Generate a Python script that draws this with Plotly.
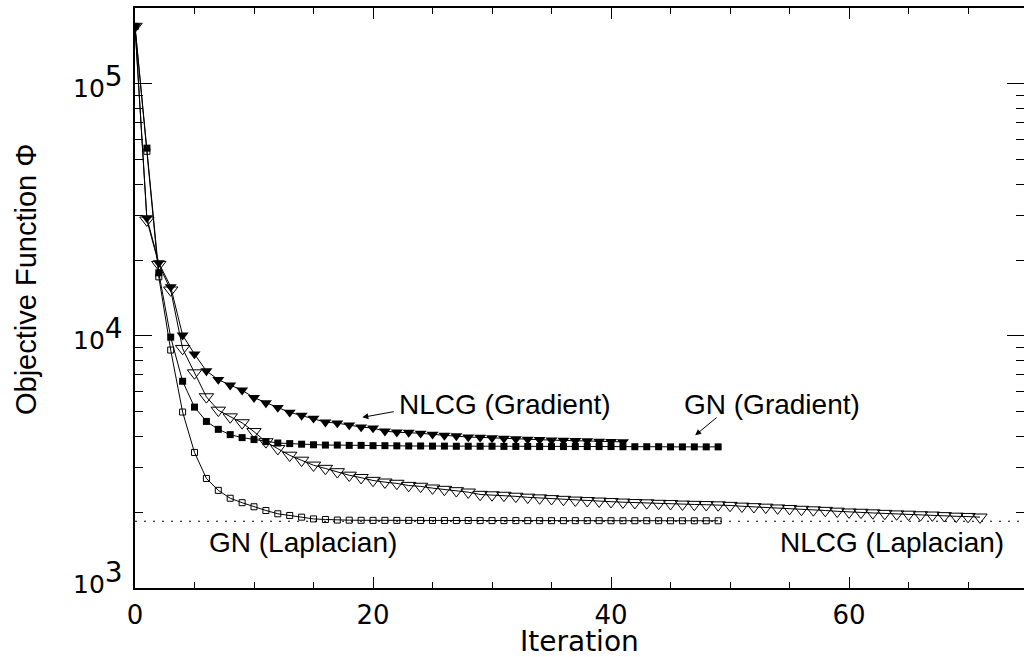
import math
import plotly.graph_objects as go

# Objective function value per iteration for the four inversion schemes
gn_gradient = [169000, 55600, 17800, 9890, 6610, 5220, 4580, 4260, 4060, 3950,
               3880, 3810, 3760, 3740, 3720, 3700, 3690, 3690, 3680, 3680,
               3670, 3670, 3665, 3660, 3660, 3655, 3655, 3650, 3650, 3650,
               3650, 3645, 3645, 3645, 3640, 3640, 3640, 3640, 3640, 3640,
               3640, 3635, 3635, 3635, 3635, 3630, 3630, 3630, 3630, 3630]

nlcg_gradient = [169000, 29400, 19500, 15670, 10070, 8470, 7260, 6710, 6380, 6090,
                 5690, 5420, 5200, 4980, 4840, 4710, 4550, 4510, 4430, 4350,
                 4310, 4190, 4150, 4140, 4110, 4070, 4030, 4010, 3970, 3960,
                 3940, 3920, 3905, 3890, 3875, 3860, 3850, 3840, 3830, 3820,
                 3810, 3800]

nlcg_laplacian = [169000, 28800, 19200, 15200, 8910, 7130, 5730, 5070, 4770, 4520,
                  4170, 3800, 3570, 3360, 3210, 3070, 2980, 2890, 2800, 2740,
                  2670, 2630, 2600, 2550, 2530, 2490, 2460, 2430, 2400, 2350,
                  2340, 2330, 2310, 2290, 2275, 2260, 2245, 2230, 2220, 2210,
                  2200, 2190, 2180, 2175, 2165, 2160, 2150, 2145, 2140, 2135,
                  2125, 2110, 2100, 2090, 2075, 2065, 2050, 2040, 2030, 2015,
                  2000, 1995, 1985, 1975, 1965, 1960, 1950, 1945, 1935, 1925,
                  1920, 1910]

gn_laplacian = [169000, 54000, 17150, 8790, 4990, 3450, 2720, 2440, 2270, 2180,
                2100, 2030, 1970, 1940, 1910, 1880, 1870, 1860, 1858, 1856,
                1855, 1855, 1854, 1854, 1853, 1853, 1852, 1852, 1852, 1851,
                1851, 1851, 1851, 1850, 1850, 1850, 1850, 1850, 1850, 1850,
                1849, 1849, 1849, 1849, 1849, 1848, 1848, 1848, 1848, 1848]

target_level = 1840          # dotted reference level
x_extent = [0, 74.7]
y_top = 2.0e5
major_exponents = [3, 4, 5]
x_major = [0, 20, 40, 60]

FONT = "Liberation Sans, Arial, Helvetica, sans-serif"
WIDE = "DejaVu Sans, Verdana, sans-serif"

fig = go.Figure()

# dotted reference line across the full iteration range
fig.add_trace(go.Scatter(x=x_extent, y=[target_level, target_level], mode="lines",
                         line=dict(color="black", width=1, dash="2px,7px"),
                         hoverinfo="skip"))

thin = dict(color="black", width=1)

fig.add_trace(go.Scatter(x=list(range(len(gn_laplacian))), y=gn_laplacian,
                         mode="lines+markers", line=thin, name="GN (Laplacian)",
                         marker=dict(symbol="square-open", size=6, color="black",
                                     line=dict(color="black", width=1))))
fig.add_trace(go.Scatter(x=list(range(len(nlcg_laplacian))), y=nlcg_laplacian,
                         mode="lines+markers", line=thin, name="NLCG (Laplacian)",
                         marker=dict(symbol="triangle-down-open", size=12.5, color="black",
                                     line=dict(color="black", width=1))))
fig.add_trace(go.Scatter(x=list(range(len(gn_gradient))), y=gn_gradient,
                         mode="lines+markers", line=thin, name="GN (Gradient)",
                         marker=dict(symbol="square", size=7, color="black",
                                     line=dict(width=0))))
fig.add_trace(go.Scatter(x=list(range(len(nlcg_gradient))), y=nlcg_gradient,
                         mode="lines+markers", line=thin, name="NLCG (Gradient)",
                         marker=dict(symbol="triangle-down", size=10.5, color="black",
                                     line=dict(width=0))))

# curve labels
labels = [
    ("NLCG (Gradient)", 31.1, 5350),
    ("GN (Gradient)", 53.5, 5350),
    ("GN (Laplacian)", 14.1, 1517),
    ("NLCG (Laplacian)", 63.6, 1517),
]
for text, xv, yv in labels:
    fig.add_annotation(x=xv, y=math.log10(yv), xref="x", yref="y", text=text,
                       showarrow=False, xanchor="center", yanchor="middle",
                       font=dict(family=FONT, size=28, color="black"))

# pointer arrows (head position, tail offset in pixels)
arrows = [
    (19.1, 4753, 33, -6),
    (47.07, 4035, 23, -19),
]
for xv, yv, ax, ay in arrows:
    fig.add_annotation(x=xv, y=math.log10(yv), xref="x", yref="y", text="",
                       showarrow=True, ax=ax, ay=ay, arrowhead=2, arrowsize=1.2,
                       arrowwidth=1, arrowcolor="black")

# decade labels on the log axis, bottom one lifted clear of the x axis
for e in major_exponents:
    fig.add_annotation(x=0, y=e, xref="paper", yref="y", xanchor="right",
                       yanchor="middle", xshift=-10,
                       yshift=11 if e == major_exponents[0] else 2,
                       text='10<sup><span style="font-size:28px">%d</span></sup>' % e,
                       showarrow=False, font=dict(family=WIDE, size=25, color="black"))

# axis titles
fig.add_annotation(x=-0.1226, y=0.531, xref="paper", yref="paper",
                   text="Objective Function Φ", textangle=-90, showarrow=False,
                   xanchor="center", yanchor="middle",
                   font=dict(family=FONT, size=29, color="black"))
fig.add_annotation(x=0.5, y=-0.0914, xref="paper", yref="paper", text="Iteration",
                   showarrow=False, xanchor="center", yanchor="middle",
                   font=dict(family=WIDE, size=28, color="black"))

y_major = [10 ** e for e in major_exponents]
y_minor = [k * 10 ** e for e in major_exponents for k in range(2, 10)
           if k * 10 ** e <= y_top]
y_range = [3, math.log10(y_top)]

fig.update_layout(
    width=1024, height=657,
    margin=dict(l=135, r=0, t=8, b=69),
    paper_bgcolor="white", plot_bgcolor="white",
    showlegend=False,
    font=dict(family=FONT, color="black"),
)
fig.update_xaxes(
    range=x_extent, tickmode="array", tickvals=x_major,
    ticks="inside", ticklen=11, tickwidth=1, tickcolor="black",
    minor=dict(dtick=5, tick0=0, ticks="inside", ticklen=6, tickwidth=1,
               tickcolor="black", showgrid=False),
    showline=True, linecolor="black", linewidth=1.5, mirror="ticks",
    showgrid=False, zeroline=False, ticklabelstandoff=3,
    tickfont=dict(family=WIDE, size=26, color="black"),
)
fig.update_yaxes(
    type="log", range=y_range,
    tickmode="array", tickvals=y_major, showticklabels=False,
    ticks="inside", ticklen=17, tickwidth=1, tickcolor="black",
    minor=dict(tickmode="array", tickvals=y_minor, ticks="inside", ticklen=8,
               tickwidth=1, tickcolor="black", showgrid=False),
    showline=True, linecolor="black", linewidth=1.5, mirror=False,
    showgrid=False, zeroline=False,
)
# right-hand tick marks without a frame line
fig.update_layout(yaxis2=dict(
    type="log", range=y_range, overlaying="y", side="right", anchor="x",
    tickmode="array", tickvals=y_major, showticklabels=False,
    ticks="inside", ticklen=17, tickwidth=1, tickcolor="black",
    minor=dict(tickmode="array", tickvals=y_minor, ticks="inside", ticklen=8,
               tickwidth=1, tickcolor="black", showgrid=False),
    showline=False, showgrid=False, zeroline=False,
))
fig.add_trace(go.Scatter(x=[], y=[], yaxis="y2", hoverinfo="skip"))

fig.write_html("out.html")
